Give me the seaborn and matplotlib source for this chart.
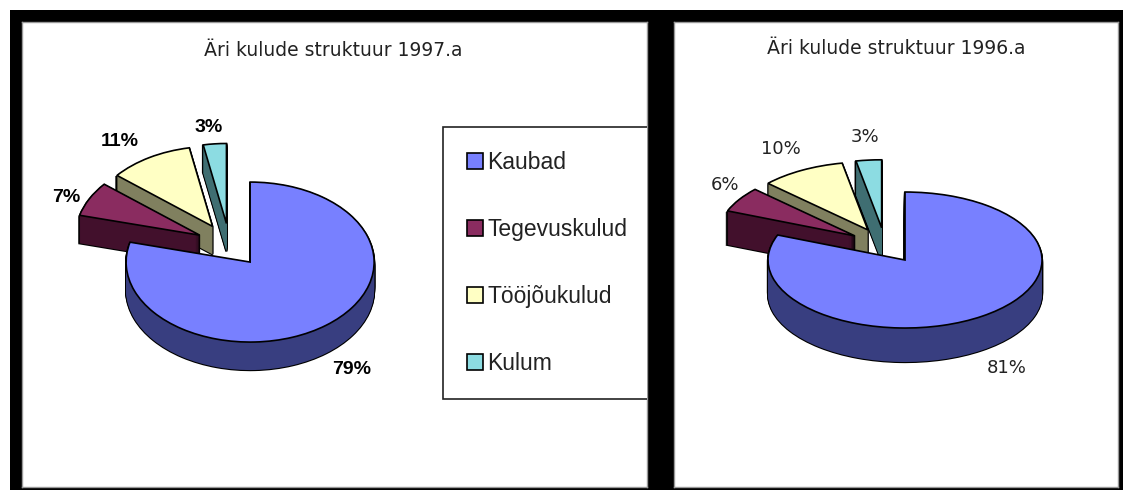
import matplotlib
matplotlib.use('Agg')
import matplotlib.pyplot as plt
from matplotlib.patches import Patch
import seaborn as sns

# data
categories = ['Kaubad', 'Tegevuskulud', 'Tööjõukulud', 'Kulum']
values_1997 = [79, 7, 11, 3]
values_1996 = [81, 6, 10, 3]
title_1997 = 'Äri kulude struktuur 1997.a'
title_1996 = 'Äri kulude struktuur 1996.a'

sns.set_theme(style='white')
plt.rcParams['font.family'] = ['Liberation Sans', 'DejaVu Sans']

top_colors = sns.color_palette(['#7880FF', '#8A2C60', '#FFFFC4', '#8CDCE2'])
side_colors = sns.color_palette(['#383E80', '#42102C', '#80805F', '#3F6E72'])
# draw order back to front
slice_order = [3, 2, 1, 0]

W, H = 1123, 490
fig = plt.figure(figsize=(W / 100, H / 100), dpi=100, facecolor='white')


def fx(x):
    return x / W


def fy(y):
    return 1 - y / H


def add_panel(box, values, center, rx, ry, depth, explode):
    # box = left, top, right, bottom in pixels
    l, t, r, b = box
    ax = fig.add_axes([fx(l), fy(b), (r - l) / W, (b - t) / H])
    cx, cy = center
    xlim = ((l - cx) / rx, (r - cx) / rx)
    ylim = ((cy - b) / ry, (cy - t) / ry)
    ex = [explode] * len(values)

    def draw(shift, edge, lw, colors, z):
        wedges, _ = ax.pie(values, startangle=90, counterclock=False, explode=ex,
                           colors=colors, center=(0, -shift / ry),
                           wedgeprops=dict(edgecolor=edge, linewidth=lw))
        for i, w in enumerate(wedges):
            w.set_zorder(slice_order[i] * 10 + z)

    # side walls, outline first and then the fill on top of it
    for d in range(depth, 0, -1):
        draw(d, 'black', 1.6, ['black'] * 4, 1)
    for d in range(depth, 0, -1):
        draw(d, 'none', 0, side_colors, 2)
    draw(0, 'black', 1.2, top_colors, 3)

    ax.set_aspect('auto')
    ax.set_xlim(xlim)
    ax.set_ylim(ylim)
    ax.set_frame_on(True)
    ax.set_facecolor('white')
    for s in ax.spines.values():
        s.set_visible(True)
        s.set_color('#999999')
        s.set_linewidth(1)
    return ax


# black background block
bg = fig.add_axes([fx(10), fy(490), (1123 - 10) / W, (490 - 10) / H])
bg.set_facecolor('black')
bg.set_xticks([])
bg.set_yticks([])
sns.despine(ax=bg, left=True, bottom=True)

ax_left = add_panel((22, 22, 647, 487), values_1997, (229.6, 245), 124, 80, 28, 0.27)
ax_right = add_panel((674, 22, 1118, 487), values_1996, (885, 245.4), 137, 68, 34, 0.26)

# titles
wide = ['DejaVu Sans']
fig.text(fx(333), fy(51), title_1997, ha='center', va='center', fontsize=13.5, family=wide, color='#222222')
fig.text(fx(896), fy(48), title_1996, ha='center', va='center', fontsize=13.5, family=wide, color='#222222')

# percent labels
pos_left = [(352, 370), (66, 197), (120, 142), (209, 127)]
pos_right = [(1007, 368), (725, 185), (781, 149), (865, 137)]
for v, (x, y) in zip(values_1997, pos_left):
    fig.text(fx(x), fy(y), f'{v}%', ha='center', va='center', fontsize=14, fontweight='bold', color='black')
for v, (x, y) in zip(values_1996, pos_right):
    fig.text(fx(x), fy(y), f'{v}%', ha='center', va='center', fontsize=13, family=wide, color='#222222')

# legend, its right side runs into the black gap
handles = [Patch(facecolor=c, edgecolor='black', linewidth=1.2) for c in top_colors]
leg = fig.legend(handles, categories, loc='upper left',
                 bbox_to_anchor=(fx(443), fy(127)), bbox_transform=fig.transFigure,
                 fontsize=16.5, frameon=True, fancybox=False, framealpha=1,
                 facecolor='white', edgecolor='#222222', borderaxespad=0,
                 handlelength=0.7, handleheight=0.7, handletextpad=0.2,
                 labelspacing=1.93, borderpad=1.03, labelcolor='#222222')
leg.get_frame().set_linewidth(1.2)
leg.get_frame().set_clip_box(ax_left.bbox)
leg.get_frame().set_clip_on(True)

plt.savefig('out.png', dpi=100, facecolor='white')
